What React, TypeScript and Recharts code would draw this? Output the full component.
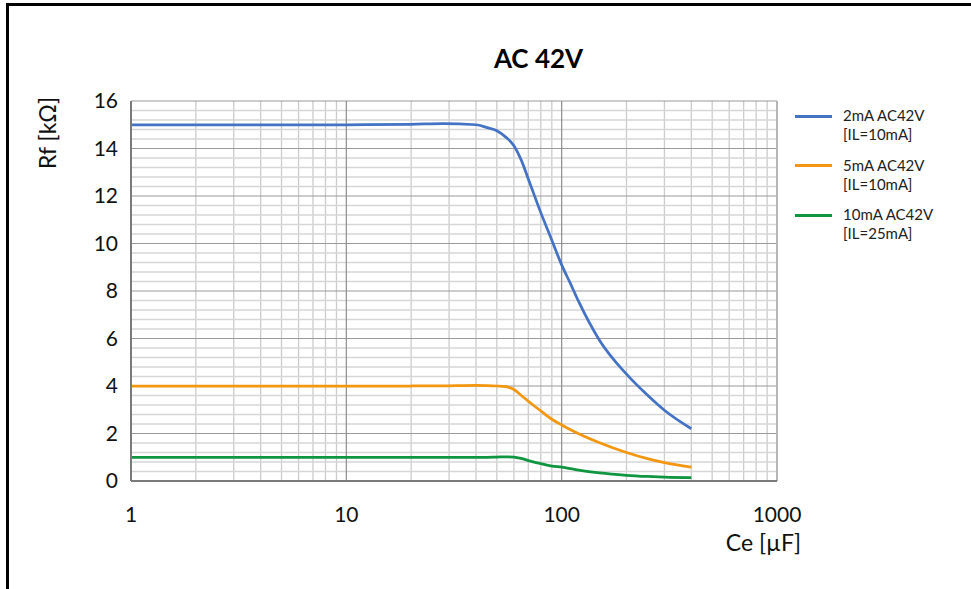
import React from 'react';
import { LineChart, Line, XAxis, YAxis, ReferenceLine, Legend } from 'recharts';

// Capacitance Ce [µF]
const ceValues = [1, 2, 5, 10, 20, 28, 40, 45, 50, 55, 60, 65, 70, 80, 90, 100, 110, 120, 150, 200, 250, 300, 400];
// Rf [kΩ]
const rf2mA = [15, 15, 15, 15, 15.02, 15.05, 15.0, 14.88, 14.75, 14.48, 14.12, 13.5, 12.72, 11.3, 10.14, 9.1, 8.3, 7.55, 5.92, 4.5, 3.62, 2.98, 2.2];
const rf5mA = [4.0, 4.0, 4.0, 4.0, 4.0, 4.01, 4.03, 4.02, 4.0, 3.97, 3.85, 3.6, 3.36, 2.95, 2.6, 2.36, 2.16, 1.99, 1.61, 1.2, 0.94, 0.77, 0.58];
const rf10mA = [1.0, 1.0, 1.0, 1.0, 1.0, 1.0, 1.0, 1.0, 1.01, 1.02, 1.01, 0.95, 0.86, 0.73, 0.63, 0.58, 0.52, 0.46, 0.34, 0.24, 0.19, 0.16, 0.14];

const seriesNames = ['2mA AC42V', '5mA AC42V', '10mA AC42V'];
const seriesSub = ['[IL=10mA]', '[IL=10mA]', '[IL=25mA]'];
const seriesKeys = ['s1', 's2', 's3'];
const seriesColors = ['#4472C4', '#F2970F', '#109640'];

const xTicks = [1, 10, 100, 1000];
const yTicks = [0, 2, 4, 6, 8, 10, 12, 14, 16];
const xMinor: number[] = [];
[1, 10, 100].forEach((d) => {
  for (let k = 2; k <= 9; k++) xMinor.push(d * k);
});
const yMinor: number[] = [];
for (let i = 0; i < 40; i++) {
  const v = Math.round(i * 0.4 * 10) / 10;
  if (Math.abs(v / 2 - Math.round(v / 2)) > 1e-6) yMinor.push(v);
}

const data = ceValues.map((x, i) => ({ x, s1: rf2mA[i], s2: rf5mA[i], s3: rf10mA[i] }));

const FONT = 'Lato, "Open Sans", sans-serif';

const LegendContent = () => (
  <div style={{ fontFamily: FONT, fontSize: 15, color: '#222', lineHeight: '19px' }}>
    {seriesKeys.map((k, i) => (
      <div key={k} style={{ position: 'relative', height: 49.5 }}>
        <div style={{ position: 'absolute', left: 15, top: 8.5, width: 37, height: 3, background: seriesColors[i] }} />
        <div style={{ position: 'absolute', left: 63, top: 0, whiteSpace: 'nowrap' }}>
          <div>{seriesNames[i]}</div>
          <div>{seriesSub[i]}</div>
        </div>
      </div>
    ))}
  </div>
);

const YLabel = (props: any) => {
  const vb = props.viewBox || { x: 71, y: 101, width: 60 };
  const cx = vb.x + vb.width - 84;
  const cy = vb.y + 32;
  return (
    <text x={cx} y={cy} transform={`rotate(-90, ${cx}, ${cy})`} textAnchor="middle" dominantBaseline="central"
      style={{ fontFamily: FONT, fontSize: 23, fill: '#111' }}>
      Rf [kΩ]
    </text>
  );
};

const XLabel = (props: any) => {
  const vb = props.viewBox || { x: 131, y: 481, width: 646 };
  return (
    <text x={vb.x + vb.width + 24} y={vb.y + 70} textAnchor="end"
      style={{ fontFamily: FONT, fontSize: 23, fill: '#111' }}>
      Ce [µF]
    </text>
  );
};

export default function App() {
  return (
    <div style={{ position: 'absolute', left: 0, top: 0, width: 971, height: 589, background: '#fff', overflow: 'hidden' }}>
      <div style={{ position: 'absolute', left: 6, top: 3, width: 965, height: 586, boxSizing: 'border-box', borderLeft: '3px solid #000', borderTop: '3px solid #000' }} />
      <div style={{ position: 'absolute', left: 0, top: 42, width: 1077, textAlign: 'center', fontFamily: FONT, fontWeight: 700, fontSize: 26, color: '#000' }}>
        AC 42V
      </div>
      <div style={{ position: 'absolute', left: 0, top: 0 }}>
        <LineChart width={971} height={589} data={data} margin={{ top: 101, right: 194, bottom: 68, left: 71 }}>
          {xMinor.map((v) => (
            <ReferenceLine key={'xm' + v} x={v} stroke="#cccccc" strokeWidth={1.3} />
          ))}
          {yMinor.map((v) => (
            <ReferenceLine key={'ym' + v} y={v} stroke="#d6d6d6" strokeWidth={1.3} />
          ))}
          {yTicks.map((v) => (
            <ReferenceLine key={'yM' + v} y={v} stroke="#9a9a9a" strokeWidth={1.2} />
          ))}
          {xTicks.map((v) => (
            <ReferenceLine key={'xM' + v} x={v} stroke={v === 1000 ? '#b5b5b5' : '#8c8c8c'} strokeWidth={v === 1000 ? 2 : 1.2} />
          ))}
          <XAxis dataKey="x" type="number" scale="log" domain={[1, 1000]} ticks={xTicks} allowDataOverflow
            height={40} tickSize={0} tickMargin={26} tickLine={false}
            axisLine={{ stroke: '#7a7a7a', strokeWidth: 2 }}
            tick={{ fontFamily: FONT, fontSize: 21, fill: '#111' }}
            label={<XLabel />} />
          <YAxis type="number" domain={[0, 16]} ticks={yTicks} allowDataOverflow width={60}
            tickSize={0} tickMargin={13} tickLine={false}
            axisLine={{ stroke: '#7a7a7a', strokeWidth: 2 }}
            tick={{ fontFamily: FONT, fontSize: 21, fill: '#111' }}
            label={<YLabel />} />
          {seriesKeys.map((k, i) => (
            <Line key={k} dataKey={k} name={seriesNames[i]} type="monotone" stroke={seriesColors[i]}
              strokeWidth={2.75} dot={false} activeDot={false} isAnimationActive={false} />
          ))}
          <Legend layout="vertical" align="center" verticalAlign="middle" content={<LegendContent />}
            wrapperStyle={{ position: 'absolute', left: 780, top: 106, width: 190 }} />
        </LineChart>
      </div>
    </div>
  );
}
